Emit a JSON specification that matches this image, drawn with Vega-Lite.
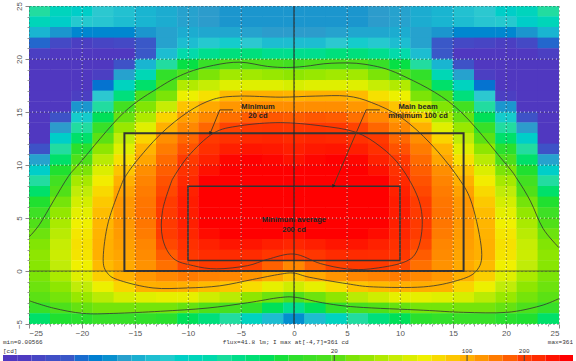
{"$schema":"https://vega.github.io/schema/vega-lite/v6.json","padding":{"left":3,"top":1,"right":0,"bottom":0},"background":"white","spacing":0,"columns":1,"align":"none","config":{"view":{"stroke":null}},
"datasets":{"cells":[
{"x":-24,"y":24.5,"v":5},{"x":-24,"y":23.5,"v":3.8},{"x":-24,"y":22.5,"v":2},{"x":-24,"y":21.5,"v":0.9},{"x":-24,"y":20.5,"v":0.5},{"x":-24,"y":19.5,"v":0.4},{"x":-24,"y":18.5,"v":0.4},{"x":-24,"y":17.5,"v":0.4},{"x":-24,"y":16.5,"v":0.4},{"x":-24,"y":15.5,"v":0.4},{"x":-24,"y":14.5,"v":0.4},{"x":-24,"y":13.5,"v":0.4},{"x":-24,"y":12.5,"v":0.4},{"x":-24,"y":11.5,"v":0.7},{"x":-24,"y":10.5,"v":1.6},{"x":-24,"y":9.5,"v":3},{"x":-24,"y":8.5,"v":5},{"x":-24,"y":7.5,"v":8},{"x":-24,"y":6.5,"v":11},{"x":-24,"y":5.5,"v":15},{"x":-24,"y":4.5,"v":20},{"x":-24,"y":3.5,"v":23},{"x":-24,"y":2.5,"v":26},{"x":-24,"y":1.5,"v":28},{"x":-24,"y":0.5,"v":27},{"x":-24,"y":-0.5,"v":25},{"x":-24,"y":-1.5,"v":23},{"x":-24,"y":-2.5,"v":21},{"x":-24,"y":-3.5,"v":14},{"x":-24,"y":-4.5,"v":8},
{"x":-22,"y":24.5,"v":3.6},{"x":-22,"y":23.5,"v":3},{"x":-22,"y":22.5,"v":1.4},{"x":-22,"y":21.5,"v":0.6},{"x":-22,"y":20.5,"v":0.4},{"x":-22,"y":19.5,"v":0.4},{"x":-22,"y":18.5,"v":0.4},{"x":-22,"y":17.5,"v":0.4},{"x":-22,"y":16.5,"v":0.4},{"x":-22,"y":15.5,"v":0.4},{"x":-22,"y":14.5,"v":0.7},{"x":-22,"y":13.5,"v":1.5},{"x":-22,"y":12.5,"v":3},{"x":-22,"y":11.5,"v":5},{"x":-22,"y":10.5,"v":8},{"x":-22,"y":9.5,"v":11},{"x":-22,"y":8.5,"v":16},{"x":-22,"y":7.5,"v":20},{"x":-22,"y":6.5,"v":24},{"x":-22,"y":5.5,"v":29},{"x":-22,"y":4.5,"v":34},{"x":-22,"y":3.5,"v":38},{"x":-22,"y":2.5,"v":42},{"x":-22,"y":1.5,"v":44},{"x":-22,"y":0.5,"v":40},{"x":-22,"y":-0.5,"v":34},{"x":-22,"y":-1.5,"v":28},{"x":-22,"y":-2.5,"v":24},{"x":-22,"y":-3.5,"v":19},{"x":-22,"y":-4.5,"v":11},
{"x":-20,"y":24.5,"v":3},{"x":-20,"y":23.5,"v":2.6},{"x":-20,"y":22.5,"v":1.2},{"x":-20,"y":21.5,"v":0.5},{"x":-20,"y":20.5,"v":0.4},{"x":-20,"y":19.5,"v":0.4},{"x":-20,"y":18.5,"v":0.4},{"x":-20,"y":17.5,"v":0.4},{"x":-20,"y":16.5,"v":0.5},{"x":-20,"y":15.5,"v":1.4},{"x":-20,"y":14.5,"v":2.8},{"x":-20,"y":13.5,"v":5},{"x":-20,"y":12.5,"v":8},{"x":-20,"y":11.5,"v":12},{"x":-20,"y":10.5,"v":19},{"x":-20,"y":9.5,"v":25},{"x":-20,"y":8.5,"v":33},{"x":-20,"y":7.5,"v":40},{"x":-20,"y":6.5,"v":47},{"x":-20,"y":5.5,"v":54},{"x":-20,"y":4.5,"v":60},{"x":-20,"y":3.5,"v":65},{"x":-20,"y":2.5,"v":68},{"x":-20,"y":1.5,"v":66},{"x":-20,"y":0.5,"v":60},{"x":-20,"y":-0.5,"v":52},{"x":-20,"y":-1.5,"v":40},{"x":-20,"y":-2.5,"v":30},{"x":-20,"y":-3.5,"v":22},{"x":-20,"y":-4.5,"v":12},
{"x":-18,"y":24.5,"v":2.5},{"x":-18,"y":23.5,"v":2.4},{"x":-18,"y":22.5,"v":1.2},{"x":-18,"y":21.5,"v":0.55},{"x":-18,"y":20.5,"v":0.4},{"x":-18,"y":19.5,"v":0.4},{"x":-18,"y":18.5,"v":0.5},{"x":-18,"y":17.5,"v":1},{"x":-18,"y":16.5,"v":2.5},{"x":-18,"y":15.5,"v":5},{"x":-18,"y":14.5,"v":9},{"x":-18,"y":13.5,"v":14},{"x":-18,"y":12.5,"v":21},{"x":-18,"y":11.5,"v":28},{"x":-18,"y":10.5,"v":38},{"x":-18,"y":9.5,"v":50},{"x":-18,"y":8.5,"v":62},{"x":-18,"y":7.5,"v":72},{"x":-18,"y":6.5,"v":82},{"x":-18,"y":5.5,"v":90},{"x":-18,"y":4.5,"v":95},{"x":-18,"y":3.5,"v":98},{"x":-18,"y":2.5,"v":100},{"x":-18,"y":1.5,"v":100},{"x":-18,"y":0.5,"v":92},{"x":-18,"y":-0.5,"v":78},{"x":-18,"y":-1.5,"v":58},{"x":-18,"y":-2.5,"v":38},{"x":-18,"y":-3.5,"v":24},{"x":-18,"y":-4.5,"v":14},
{"x":-16,"y":24.5,"v":2.3},{"x":-16,"y":23.5,"v":2.2},{"x":-16,"y":22.5,"v":1.2},{"x":-16,"y":21.5,"v":0.6},{"x":-16,"y":20.5,"v":0.45},{"x":-16,"y":19.5,"v":0.7},{"x":-16,"y":18.5,"v":1.6},{"x":-16,"y":17.5,"v":3.5},{"x":-16,"y":16.5,"v":7},{"x":-16,"y":15.5,"v":16},{"x":-16,"y":14.5,"v":22},{"x":-16,"y":13.5,"v":30},{"x":-16,"y":12.5,"v":40},{"x":-16,"y":11.5,"v":52},{"x":-16,"y":10.5,"v":68},{"x":-16,"y":9.5,"v":85},{"x":-16,"y":8.5,"v":100},{"x":-16,"y":7.5,"v":110},{"x":-16,"y":6.5,"v":118},{"x":-16,"y":5.5,"v":120},{"x":-16,"y":4.5,"v":118},{"x":-16,"y":3.5,"v":115},{"x":-16,"y":2.5,"v":112},{"x":-16,"y":1.5,"v":108},{"x":-16,"y":0.5,"v":105},{"x":-16,"y":-0.5,"v":100},{"x":-16,"y":-1.5,"v":75},{"x":-16,"y":-2.5,"v":48},{"x":-16,"y":-3.5,"v":24},{"x":-16,"y":-4.5,"v":14},
{"x":-14,"y":24.5,"v":2},{"x":-14,"y":23.5,"v":2},{"x":-14,"y":22.5,"v":1.4},{"x":-14,"y":21.5,"v":0.8},{"x":-14,"y":20.5,"v":0.8},{"x":-14,"y":19.5,"v":2},{"x":-14,"y":18.5,"v":4},{"x":-14,"y":17.5,"v":8},{"x":-14,"y":16.5,"v":19},{"x":-14,"y":15.5,"v":26},{"x":-14,"y":14.5,"v":35},{"x":-14,"y":13.5,"v":52},{"x":-14,"y":12.5,"v":75},{"x":-14,"y":11.5,"v":97},{"x":-14,"y":10.5,"v":108},{"x":-14,"y":9.5,"v":125},{"x":-14,"y":8.5,"v":133},{"x":-14,"y":7.5,"v":140},{"x":-14,"y":6.5,"v":145},{"x":-14,"y":5.5,"v":148},{"x":-14,"y":4.5,"v":145},{"x":-14,"y":3.5,"v":140},{"x":-14,"y":2.5,"v":132},{"x":-14,"y":1.5,"v":128},{"x":-14,"y":0.5,"v":122},{"x":-14,"y":-0.5,"v":118},{"x":-14,"y":-1.5,"v":100},{"x":-14,"y":-2.5,"v":52},{"x":-14,"y":-3.5,"v":24},{"x":-14,"y":-4.5,"v":13},
{"x":-12,"y":24.5,"v":1.8},{"x":-12,"y":23.5,"v":1.8},{"x":-12,"y":22.5,"v":1.6},{"x":-12,"y":21.5,"v":1.6},{"x":-12,"y":20.5,"v":2.2},{"x":-12,"y":19.5,"v":5},{"x":-12,"y":18.5,"v":13},{"x":-12,"y":17.5,"v":19},{"x":-12,"y":16.5,"v":25},{"x":-12,"y":15.5,"v":42},{"x":-12,"y":14.5,"v":75},{"x":-12,"y":13.5,"v":100},{"x":-12,"y":12.5,"v":125},{"x":-12,"y":11.5,"v":140},{"x":-12,"y":10.5,"v":155},{"x":-12,"y":9.5,"v":168},{"x":-12,"y":8.5,"v":180},{"x":-12,"y":7.5,"v":190},{"x":-12,"y":6.5,"v":200},{"x":-12,"y":5.5,"v":205},{"x":-12,"y":4.5,"v":205},{"x":-12,"y":3.5,"v":200},{"x":-12,"y":2.5,"v":190},{"x":-12,"y":1.5,"v":170},{"x":-12,"y":0.5,"v":150},{"x":-12,"y":-0.5,"v":130},{"x":-12,"y":-1.5,"v":102},{"x":-12,"y":-2.5,"v":55},{"x":-12,"y":-3.5,"v":24},{"x":-12,"y":-4.5,"v":12},
{"x":-10,"y":24.5,"v":1.6},{"x":-10,"y":23.5,"v":1.6},{"x":-10,"y":22.5,"v":1.8},{"x":-10,"y":21.5,"v":2.2},{"x":-10,"y":20.5,"v":4.5},{"x":-10,"y":19.5,"v":10},{"x":-10,"y":18.5,"v":20},{"x":-10,"y":17.5,"v":36},{"x":-10,"y":16.5,"v":58},{"x":-10,"y":15.5,"v":85},{"x":-10,"y":14.5,"v":112},{"x":-10,"y":13.5,"v":130},{"x":-10,"y":12.5,"v":158},{"x":-10,"y":11.5,"v":180},{"x":-10,"y":10.5,"v":205},{"x":-10,"y":9.5,"v":225},{"x":-10,"y":8.5,"v":245},{"x":-10,"y":7.5,"v":260},{"x":-10,"y":6.5,"v":270},{"x":-10,"y":5.5,"v":270},{"x":-10,"y":4.5,"v":265},{"x":-10,"y":3.5,"v":250},{"x":-10,"y":2.5,"v":230},{"x":-10,"y":1.5,"v":210},{"x":-10,"y":0.5,"v":190},{"x":-10,"y":-0.5,"v":140},{"x":-10,"y":-1.5,"v":100},{"x":-10,"y":-2.5,"v":55},{"x":-10,"y":-3.5,"v":22},{"x":-10,"y":-4.5,"v":9},
{"x":-8,"y":24.5,"v":1.5},{"x":-8,"y":23.5,"v":1.5},{"x":-8,"y":22.5,"v":1.7},{"x":-8,"y":21.5,"v":2.6},{"x":-8,"y":20.5,"v":6},{"x":-8,"y":19.5,"v":14},{"x":-8,"y":18.5,"v":25},{"x":-8,"y":17.5,"v":42},{"x":-8,"y":16.5,"v":68},{"x":-8,"y":15.5,"v":105},{"x":-8,"y":14.5,"v":130},{"x":-8,"y":13.5,"v":160},{"x":-8,"y":12.5,"v":205},{"x":-8,"y":11.5,"v":230},{"x":-8,"y":10.5,"v":260},{"x":-8,"y":9.5,"v":285},{"x":-8,"y":8.5,"v":305},{"x":-8,"y":7.5,"v":315},{"x":-8,"y":6.5,"v":320},{"x":-8,"y":5.5,"v":315},{"x":-8,"y":4.5,"v":305},{"x":-8,"y":3.5,"v":290},{"x":-8,"y":2.5,"v":260},{"x":-8,"y":1.5,"v":235},{"x":-8,"y":0.5,"v":205},{"x":-8,"y":-0.5,"v":135},{"x":-8,"y":-1.5,"v":92},{"x":-8,"y":-2.5,"v":45},{"x":-8,"y":-3.5,"v":20},{"x":-8,"y":-4.5,"v":7},
{"x":-6,"y":24.5,"v":1.4},{"x":-6,"y":23.5,"v":1.4},{"x":-6,"y":22.5,"v":1.7},{"x":-6,"y":21.5,"v":2.8},{"x":-6,"y":20.5,"v":7},{"x":-6,"y":19.5,"v":19},{"x":-6,"y":18.5,"v":32},{"x":-6,"y":17.5,"v":52},{"x":-6,"y":16.5,"v":92},{"x":-6,"y":15.5,"v":118},{"x":-6,"y":14.5,"v":150},{"x":-6,"y":13.5,"v":195},{"x":-6,"y":12.5,"v":225},{"x":-6,"y":11.5,"v":265},{"x":-6,"y":10.5,"v":295},{"x":-6,"y":9.5,"v":320},{"x":-6,"y":8.5,"v":340},{"x":-6,"y":7.5,"v":350},{"x":-6,"y":6.5,"v":350},{"x":-6,"y":5.5,"v":345},{"x":-6,"y":4.5,"v":330},{"x":-6,"y":3.5,"v":310},{"x":-6,"y":2.5,"v":280},{"x":-6,"y":1.5,"v":240},{"x":-6,"y":0.5,"v":205},{"x":-6,"y":-0.5,"v":130},{"x":-6,"y":-1.5,"v":85},{"x":-6,"y":-2.5,"v":38},{"x":-6,"y":-3.5,"v":17},{"x":-6,"y":-4.5,"v":5},
{"x":-4,"y":24.5,"v":1.4},{"x":-4,"y":23.5,"v":1.4},{"x":-4,"y":22.5,"v":1.6},{"x":-4,"y":21.5,"v":2.5},{"x":-4,"y":20.5,"v":7},{"x":-4,"y":19.5,"v":19},{"x":-4,"y":18.5,"v":32},{"x":-4,"y":17.5,"v":52},{"x":-4,"y":16.5,"v":100},{"x":-4,"y":15.5,"v":125},{"x":-4,"y":14.5,"v":170},{"x":-4,"y":13.5,"v":210},{"x":-4,"y":12.5,"v":245},{"x":-4,"y":11.5,"v":280},{"x":-4,"y":10.5,"v":305},{"x":-4,"y":9.5,"v":325},{"x":-4,"y":8.5,"v":345},{"x":-4,"y":7.5,"v":355},{"x":-4,"y":6.5,"v":361},{"x":-4,"y":5.5,"v":350},{"x":-4,"y":4.5,"v":335},{"x":-4,"y":3.5,"v":315},{"x":-4,"y":2.5,"v":280},{"x":-4,"y":1.5,"v":240},{"x":-4,"y":0.5,"v":195},{"x":-4,"y":-0.5,"v":120},{"x":-4,"y":-1.5,"v":70},{"x":-4,"y":-2.5,"v":28},{"x":-4,"y":-3.5,"v":13},{"x":-4,"y":-4.5,"v":3.5},
{"x":-2,"y":24.5,"v":1.4},{"x":-2,"y":23.5,"v":1.4},{"x":-2,"y":22.5,"v":1.5},{"x":-2,"y":21.5,"v":2.2},{"x":-2,"y":20.5,"v":6},{"x":-2,"y":19.5,"v":18},{"x":-2,"y":18.5,"v":30},{"x":-2,"y":17.5,"v":52},{"x":-2,"y":16.5,"v":100},{"x":-2,"y":15.5,"v":125},{"x":-2,"y":14.5,"v":175},{"x":-2,"y":13.5,"v":215},{"x":-2,"y":12.5,"v":250},{"x":-2,"y":11.5,"v":275},{"x":-2,"y":10.5,"v":295},{"x":-2,"y":9.5,"v":315},{"x":-2,"y":8.5,"v":330},{"x":-2,"y":7.5,"v":340},{"x":-2,"y":6.5,"v":340},{"x":-2,"y":5.5,"v":335},{"x":-2,"y":4.5,"v":320},{"x":-2,"y":3.5,"v":300},{"x":-2,"y":2.5,"v":265},{"x":-2,"y":1.5,"v":215},{"x":-2,"y":0.5,"v":165},{"x":-2,"y":-0.5,"v":105},{"x":-2,"y":-1.5,"v":55},{"x":-2,"y":-2.5,"v":23},{"x":-2,"y":-3.5,"v":9},{"x":-2,"y":-4.5,"v":2.2},
{"x":0,"y":24.5,"v":1.4},{"x":0,"y":23.5,"v":1.4},{"x":0,"y":22.5,"v":1.5},{"x":0,"y":21.5,"v":2.2},{"x":0,"y":20.5,"v":6},{"x":0,"y":19.5,"v":16},{"x":0,"y":18.5,"v":28},{"x":0,"y":17.5,"v":48},{"x":0,"y":16.5,"v":97},{"x":0,"y":15.5,"v":125},{"x":0,"y":14.5,"v":170},{"x":0,"y":13.5,"v":210},{"x":0,"y":12.5,"v":240},{"x":0,"y":11.5,"v":265},{"x":0,"y":10.5,"v":285},{"x":0,"y":9.5,"v":300},{"x":0,"y":8.5,"v":315},{"x":0,"y":7.5,"v":320},{"x":0,"y":6.5,"v":320},{"x":0,"y":5.5,"v":315},{"x":0,"y":4.5,"v":310},{"x":0,"y":3.5,"v":290},{"x":0,"y":2.5,"v":250},{"x":0,"y":1.5,"v":200},{"x":0,"y":0.5,"v":130},{"x":0,"y":-0.5,"v":88},{"x":0,"y":-1.5,"v":45},{"x":0,"y":-2.5,"v":19},{"x":0,"y":-3.5,"v":6},{"x":0,"y":-4.5,"v":1.3},
{"x":2,"y":24.5,"v":1.4},{"x":2,"y":23.5,"v":1.4},{"x":2,"y":22.5,"v":1.5},{"x":2,"y":21.5,"v":2.2},{"x":2,"y":20.5,"v":6},{"x":2,"y":19.5,"v":18},{"x":2,"y":18.5,"v":30},{"x":2,"y":17.5,"v":52},{"x":2,"y":16.5,"v":100},{"x":2,"y":15.5,"v":125},{"x":2,"y":14.5,"v":175},{"x":2,"y":13.5,"v":215},{"x":2,"y":12.5,"v":250},{"x":2,"y":11.5,"v":275},{"x":2,"y":10.5,"v":295},{"x":2,"y":9.5,"v":315},{"x":2,"y":8.5,"v":330},{"x":2,"y":7.5,"v":340},{"x":2,"y":6.5,"v":340},{"x":2,"y":5.5,"v":335},{"x":2,"y":4.5,"v":320},{"x":2,"y":3.5,"v":300},{"x":2,"y":2.5,"v":265},{"x":2,"y":1.5,"v":215},{"x":2,"y":0.5,"v":165},{"x":2,"y":-0.5,"v":105},{"x":2,"y":-1.5,"v":55},{"x":2,"y":-2.5,"v":23},{"x":2,"y":-3.5,"v":9},{"x":2,"y":-4.5,"v":2.2},
{"x":4,"y":24.5,"v":1.4},{"x":4,"y":23.5,"v":1.4},{"x":4,"y":22.5,"v":1.6},{"x":4,"y":21.5,"v":2.5},{"x":4,"y":20.5,"v":7},{"x":4,"y":19.5,"v":19},{"x":4,"y":18.5,"v":32},{"x":4,"y":17.5,"v":52},{"x":4,"y":16.5,"v":100},{"x":4,"y":15.5,"v":125},{"x":4,"y":14.5,"v":170},{"x":4,"y":13.5,"v":210},{"x":4,"y":12.5,"v":245},{"x":4,"y":11.5,"v":280},{"x":4,"y":10.5,"v":305},{"x":4,"y":9.5,"v":325},{"x":4,"y":8.5,"v":345},{"x":4,"y":7.5,"v":355},{"x":4,"y":6.5,"v":355},{"x":4,"y":5.5,"v":350},{"x":4,"y":4.5,"v":335},{"x":4,"y":3.5,"v":315},{"x":4,"y":2.5,"v":280},{"x":4,"y":1.5,"v":240},{"x":4,"y":0.5,"v":195},{"x":4,"y":-0.5,"v":120},{"x":4,"y":-1.5,"v":70},{"x":4,"y":-2.5,"v":28},{"x":4,"y":-3.5,"v":13},{"x":4,"y":-4.5,"v":3.5},
{"x":6,"y":24.5,"v":1.4},{"x":6,"y":23.5,"v":1.4},{"x":6,"y":22.5,"v":1.7},{"x":6,"y":21.5,"v":2.8},{"x":6,"y":20.5,"v":7},{"x":6,"y":19.5,"v":19},{"x":6,"y":18.5,"v":32},{"x":6,"y":17.5,"v":52},{"x":6,"y":16.5,"v":92},{"x":6,"y":15.5,"v":118},{"x":6,"y":14.5,"v":150},{"x":6,"y":13.5,"v":195},{"x":6,"y":12.5,"v":225},{"x":6,"y":11.5,"v":265},{"x":6,"y":10.5,"v":295},{"x":6,"y":9.5,"v":320},{"x":6,"y":8.5,"v":340},{"x":6,"y":7.5,"v":350},{"x":6,"y":6.5,"v":350},{"x":6,"y":5.5,"v":345},{"x":6,"y":4.5,"v":330},{"x":6,"y":3.5,"v":310},{"x":6,"y":2.5,"v":280},{"x":6,"y":1.5,"v":240},{"x":6,"y":0.5,"v":205},{"x":6,"y":-0.5,"v":130},{"x":6,"y":-1.5,"v":85},{"x":6,"y":-2.5,"v":38},{"x":6,"y":-3.5,"v":17},{"x":6,"y":-4.5,"v":5},
{"x":8,"y":24.5,"v":1.5},{"x":8,"y":23.5,"v":1.5},{"x":8,"y":22.5,"v":1.7},{"x":8,"y":21.5,"v":2.6},{"x":8,"y":20.5,"v":6},{"x":8,"y":19.5,"v":14},{"x":8,"y":18.5,"v":25},{"x":8,"y":17.5,"v":42},{"x":8,"y":16.5,"v":68},{"x":8,"y":15.5,"v":105},{"x":8,"y":14.5,"v":130},{"x":8,"y":13.5,"v":160},{"x":8,"y":12.5,"v":205},{"x":8,"y":11.5,"v":230},{"x":8,"y":10.5,"v":260},{"x":8,"y":9.5,"v":285},{"x":8,"y":8.5,"v":305},{"x":8,"y":7.5,"v":315},{"x":8,"y":6.5,"v":320},{"x":8,"y":5.5,"v":315},{"x":8,"y":4.5,"v":305},{"x":8,"y":3.5,"v":290},{"x":8,"y":2.5,"v":260},{"x":8,"y":1.5,"v":235},{"x":8,"y":0.5,"v":205},{"x":8,"y":-0.5,"v":135},{"x":8,"y":-1.5,"v":92},{"x":8,"y":-2.5,"v":45},{"x":8,"y":-3.5,"v":20},{"x":8,"y":-4.5,"v":7},
{"x":10,"y":24.5,"v":1.6},{"x":10,"y":23.5,"v":1.6},{"x":10,"y":22.5,"v":1.8},{"x":10,"y":21.5,"v":2.2},{"x":10,"y":20.5,"v":4.5},{"x":10,"y":19.5,"v":10},{"x":10,"y":18.5,"v":20},{"x":10,"y":17.5,"v":36},{"x":10,"y":16.5,"v":58},{"x":10,"y":15.5,"v":85},{"x":10,"y":14.5,"v":112},{"x":10,"y":13.5,"v":130},{"x":10,"y":12.5,"v":158},{"x":10,"y":11.5,"v":180},{"x":10,"y":10.5,"v":205},{"x":10,"y":9.5,"v":225},{"x":10,"y":8.5,"v":245},{"x":10,"y":7.5,"v":260},{"x":10,"y":6.5,"v":270},{"x":10,"y":5.5,"v":270},{"x":10,"y":4.5,"v":265},{"x":10,"y":3.5,"v":250},{"x":10,"y":2.5,"v":230},{"x":10,"y":1.5,"v":210},{"x":10,"y":0.5,"v":190},{"x":10,"y":-0.5,"v":140},{"x":10,"y":-1.5,"v":100},{"x":10,"y":-2.5,"v":55},{"x":10,"y":-3.5,"v":22},{"x":10,"y":-4.5,"v":9},
{"x":12,"y":24.5,"v":1.8},{"x":12,"y":23.5,"v":1.8},{"x":12,"y":22.5,"v":1.6},{"x":12,"y":21.5,"v":1.6},{"x":12,"y":20.5,"v":2.2},{"x":12,"y":19.5,"v":5},{"x":12,"y":18.5,"v":13},{"x":12,"y":17.5,"v":19},{"x":12,"y":16.5,"v":25},{"x":12,"y":15.5,"v":42},{"x":12,"y":14.5,"v":75},{"x":12,"y":13.5,"v":100},{"x":12,"y":12.5,"v":125},{"x":12,"y":11.5,"v":140},{"x":12,"y":10.5,"v":155},{"x":12,"y":9.5,"v":168},{"x":12,"y":8.5,"v":180},{"x":12,"y":7.5,"v":190},{"x":12,"y":6.5,"v":200},{"x":12,"y":5.5,"v":205},{"x":12,"y":4.5,"v":205},{"x":12,"y":3.5,"v":200},{"x":12,"y":2.5,"v":190},{"x":12,"y":1.5,"v":170},{"x":12,"y":0.5,"v":150},{"x":12,"y":-0.5,"v":130},{"x":12,"y":-1.5,"v":102},{"x":12,"y":-2.5,"v":55},{"x":12,"y":-3.5,"v":24},{"x":12,"y":-4.5,"v":12},
{"x":14,"y":24.5,"v":2},{"x":14,"y":23.5,"v":2},{"x":14,"y":22.5,"v":1.4},{"x":14,"y":21.5,"v":0.8},{"x":14,"y":20.5,"v":0.8},{"x":14,"y":19.5,"v":2},{"x":14,"y":18.5,"v":4},{"x":14,"y":17.5,"v":8},{"x":14,"y":16.5,"v":19},{"x":14,"y":15.5,"v":26},{"x":14,"y":14.5,"v":35},{"x":14,"y":13.5,"v":52},{"x":14,"y":12.5,"v":75},{"x":14,"y":11.5,"v":97},{"x":14,"y":10.5,"v":108},{"x":14,"y":9.5,"v":125},{"x":14,"y":8.5,"v":133},{"x":14,"y":7.5,"v":140},{"x":14,"y":6.5,"v":145},{"x":14,"y":5.5,"v":148},{"x":14,"y":4.5,"v":145},{"x":14,"y":3.5,"v":140},{"x":14,"y":2.5,"v":132},{"x":14,"y":1.5,"v":128},{"x":14,"y":0.5,"v":122},{"x":14,"y":-0.5,"v":118},{"x":14,"y":-1.5,"v":100},{"x":14,"y":-2.5,"v":52},{"x":14,"y":-3.5,"v":24},{"x":14,"y":-4.5,"v":13},
{"x":16,"y":24.5,"v":2.3},{"x":16,"y":23.5,"v":2.2},{"x":16,"y":22.5,"v":1.2},{"x":16,"y":21.5,"v":0.6},{"x":16,"y":20.5,"v":0.45},{"x":16,"y":19.5,"v":0.7},{"x":16,"y":18.5,"v":1.6},{"x":16,"y":17.5,"v":3.5},{"x":16,"y":16.5,"v":7},{"x":16,"y":15.5,"v":16},{"x":16,"y":14.5,"v":22},{"x":16,"y":13.5,"v":30},{"x":16,"y":12.5,"v":40},{"x":16,"y":11.5,"v":52},{"x":16,"y":10.5,"v":68},{"x":16,"y":9.5,"v":85},{"x":16,"y":8.5,"v":100},{"x":16,"y":7.5,"v":110},{"x":16,"y":6.5,"v":118},{"x":16,"y":5.5,"v":120},{"x":16,"y":4.5,"v":118},{"x":16,"y":3.5,"v":115},{"x":16,"y":2.5,"v":112},{"x":16,"y":1.5,"v":108},{"x":16,"y":0.5,"v":105},{"x":16,"y":-0.5,"v":100},{"x":16,"y":-1.5,"v":75},{"x":16,"y":-2.5,"v":48},{"x":16,"y":-3.5,"v":24},{"x":16,"y":-4.5,"v":14},
{"x":18,"y":24.5,"v":2.5},{"x":18,"y":23.5,"v":2.4},{"x":18,"y":22.5,"v":1.2},{"x":18,"y":21.5,"v":0.55},{"x":18,"y":20.5,"v":0.4},{"x":18,"y":19.5,"v":0.4},{"x":18,"y":18.5,"v":0.5},{"x":18,"y":17.5,"v":1},{"x":18,"y":16.5,"v":2.5},{"x":18,"y":15.5,"v":5},{"x":18,"y":14.5,"v":9},{"x":18,"y":13.5,"v":14},{"x":18,"y":12.5,"v":21},{"x":18,"y":11.5,"v":28},{"x":18,"y":10.5,"v":38},{"x":18,"y":9.5,"v":50},{"x":18,"y":8.5,"v":62},{"x":18,"y":7.5,"v":72},{"x":18,"y":6.5,"v":82},{"x":18,"y":5.5,"v":90},{"x":18,"y":4.5,"v":95},{"x":18,"y":3.5,"v":98},{"x":18,"y":2.5,"v":100},{"x":18,"y":1.5,"v":100},{"x":18,"y":0.5,"v":92},{"x":18,"y":-0.5,"v":78},{"x":18,"y":-1.5,"v":58},{"x":18,"y":-2.5,"v":38},{"x":18,"y":-3.5,"v":24},{"x":18,"y":-4.5,"v":14},
{"x":20,"y":24.5,"v":3},{"x":20,"y":23.5,"v":2.6},{"x":20,"y":22.5,"v":1.2},{"x":20,"y":21.5,"v":0.5},{"x":20,"y":20.5,"v":0.4},{"x":20,"y":19.5,"v":0.4},{"x":20,"y":18.5,"v":0.4},{"x":20,"y":17.5,"v":0.4},{"x":20,"y":16.5,"v":0.5},{"x":20,"y":15.5,"v":1.4},{"x":20,"y":14.5,"v":2.8},{"x":20,"y":13.5,"v":5},{"x":20,"y":12.5,"v":8},{"x":20,"y":11.5,"v":12},{"x":20,"y":10.5,"v":19},{"x":20,"y":9.5,"v":25},{"x":20,"y":8.5,"v":33},{"x":20,"y":7.5,"v":40},{"x":20,"y":6.5,"v":47},{"x":20,"y":5.5,"v":54},{"x":20,"y":4.5,"v":60},{"x":20,"y":3.5,"v":65},{"x":20,"y":2.5,"v":68},{"x":20,"y":1.5,"v":66},{"x":20,"y":0.5,"v":60},{"x":20,"y":-0.5,"v":52},{"x":20,"y":-1.5,"v":40},{"x":20,"y":-2.5,"v":30},{"x":20,"y":-3.5,"v":22},{"x":20,"y":-4.5,"v":12},
{"x":22,"y":24.5,"v":3.6},{"x":22,"y":23.5,"v":3},{"x":22,"y":22.5,"v":1.4},{"x":22,"y":21.5,"v":0.6},{"x":22,"y":20.5,"v":0.4},{"x":22,"y":19.5,"v":0.4},{"x":22,"y":18.5,"v":0.4},{"x":22,"y":17.5,"v":0.4},{"x":22,"y":16.5,"v":0.4},{"x":22,"y":15.5,"v":0.4},{"x":22,"y":14.5,"v":0.7},{"x":22,"y":13.5,"v":1.5},{"x":22,"y":12.5,"v":3},{"x":22,"y":11.5,"v":5},{"x":22,"y":10.5,"v":8},{"x":22,"y":9.5,"v":11},{"x":22,"y":8.5,"v":16},{"x":22,"y":7.5,"v":20},{"x":22,"y":6.5,"v":24},{"x":22,"y":5.5,"v":29},{"x":22,"y":4.5,"v":34},{"x":22,"y":3.5,"v":38},{"x":22,"y":2.5,"v":42},{"x":22,"y":1.5,"v":44},{"x":22,"y":0.5,"v":40},{"x":22,"y":-0.5,"v":34},{"x":22,"y":-1.5,"v":28},{"x":22,"y":-2.5,"v":24},{"x":22,"y":-3.5,"v":19},{"x":22,"y":-4.5,"v":11},
{"x":24,"y":24.5,"v":5},{"x":24,"y":23.5,"v":3.8},{"x":24,"y":22.5,"v":2},{"x":24,"y":21.5,"v":0.9},{"x":24,"y":20.5,"v":0.5},{"x":24,"y":19.5,"v":0.4},{"x":24,"y":18.5,"v":0.4},{"x":24,"y":17.5,"v":0.4},{"x":24,"y":16.5,"v":0.4},{"x":24,"y":15.5,"v":0.4},{"x":24,"y":14.5,"v":0.4},{"x":24,"y":13.5,"v":0.4},{"x":24,"y":12.5,"v":0.4},{"x":24,"y":11.5,"v":0.7},{"x":24,"y":10.5,"v":1.6},{"x":24,"y":9.5,"v":3},{"x":24,"y":8.5,"v":5},{"x":24,"y":7.5,"v":8},{"x":24,"y":6.5,"v":11},{"x":24,"y":5.5,"v":15},{"x":24,"y":4.5,"v":20},{"x":24,"y":3.5,"v":23},{"x":24,"y":2.5,"v":26},{"x":24,"y":1.5,"v":28},{"x":24,"y":0.5,"v":27},{"x":24,"y":-0.5,"v":25},{"x":24,"y":-1.5,"v":23},{"x":24,"y":-2.5,"v":21},{"x":24,"y":-3.5,"v":14},{"x":24,"y":-4.5,"v":8}
],
"contours":[
{"c":"20a","i":1,"x":-25,"y":3.2},{"c":"20a","i":2,"x":-24,"y":4.4},{"c":"20a","i":3,"x":-22.7,"y":6.6},{"c":"20a","i":4,"x":-21.3,"y":8.9},{"c":"20a","i":5,"x":-20.2,"y":10.2},{"c":"20a","i":6,"x":-16.1,"y":14.9},{"c":"20a","i":7,"x":-12.6,"y":17.4},{"c":"20a","i":8,"x":-10.1,"y":18.7},{"c":"20a","i":9,"x":-7.6,"y":19.4},{"c":"20a","i":10,"x":-5.1,"y":19.7},{"c":"20a","i":11,"x":-2.5,"y":19.3},{"c":"20a","i":12,"x":-0.7,"y":19.2},{"c":"20a","i":13,"x":1,"y":19.3},{"c":"20a","i":14,"x":3.5,"y":19.6},{"c":"20a","i":15,"x":6.7,"y":19.5},{"c":"20a","i":16,"x":10.1,"y":18.5},{"c":"20a","i":17,"x":15.2,"y":15.5},{"c":"20a","i":18,"x":19.9,"y":10.2},{"c":"20a","i":19,"x":21.1,"y":8.6},{"c":"20a","i":20,"x":22.3,"y":6.6},{"c":"20a","i":21,"x":23.5,"y":4},{"c":"20a","i":22,"x":25,"y":2.2},
{"c":"20b","i":1,"x":-25,"y":-2.8},{"c":"20b","i":2,"x":-22.7,"y":-3.5},{"c":"20b","i":3,"x":-19.9,"y":-4},{"c":"20b","i":4,"x":-17,"y":-4},{"c":"20b","i":5,"x":-12.6,"y":-3.8},{"c":"20b","i":6,"x":-8.2,"y":-3.5},{"c":"20b","i":7,"x":-4.4,"y":-3},{"c":"20b","i":8,"x":-1.3,"y":-2.5},{"c":"20b","i":9,"x":0.3,"y":-2.5},{"c":"20b","i":10,"x":2.7,"y":-3},{"c":"20b","i":11,"x":5.9,"y":-3.4},{"c":"20b","i":12,"x":12.2,"y":-3.7},{"c":"20b","i":13,"x":16,"y":-3.9},{"c":"20b","i":14,"x":20.1,"y":-3.9},{"c":"20b","i":15,"x":23.2,"y":-3.3},{"c":"20b","i":16,"x":25,"y":-2.6},
{"c":"100","i":1,"x":-16.1,"y":8.6},{"c":"100","i":2,"x":-15,"y":10.2},{"c":"100","i":3,"x":-12.6,"y":12.9},{"c":"100","i":4,"x":-10,"y":15},{"c":"100","i":5,"x":-7.6,"y":16.2},{"c":"100","i":6,"x":-5.1,"y":16.5},{"c":"100","i":7,"x":-1.3,"y":16.4},{"c":"100","i":8,"x":2,"y":16.5},{"c":"100","i":9,"x":5,"y":16.5},{"c":"100","i":10,"x":7.3,"y":15.9},{"c":"100","i":11,"x":10.1,"y":14.5},{"c":"100","i":12,"x":12.9,"y":12},{"c":"100","i":13,"x":15.5,"y":8.8},{"c":"100","i":14,"x":16.8,"y":6.3},{"c":"100","i":15,"x":17.7,"y":1.9},{"c":"100","i":16,"x":17.2,"y":0},{"c":"100","i":17,"x":15.4,"y":-0.9},{"c":"100","i":18,"x":12.2,"y":-1.5},{"c":"100","i":19,"x":7.5,"y":-1.5},{"c":"100","i":20,"x":5,"y":-1.2},{"c":"100","i":21,"x":1.5,"y":-0.6},{"c":"100","i":22,"x":0,"y":-0.2},{"c":"100","i":23,"x":-1.3,"y":-0.3},{"c":"100","i":24,"x":-3.9,"y":-0.8},{"c":"100","i":25,"x":-7,"y":-1.4},{"c":"100","i":26,"x":-10.1,"y":-1.6},{"c":"100","i":27,"x":-13.3,"y":-1.6},{"c":"100","i":28,"x":-16.4,"y":-0.9},{"c":"100","i":29,"x":-17.6,"y":-0.2},{"c":"100","i":30,"x":-18,"y":1.2},{"c":"100","i":31,"x":-17.5,"y":4.7},{"c":"100","i":32,"x":-16.1,"y":8.6},
{"c":"200","i":1,"x":-11.5,"y":8.6},{"c":"200","i":2,"x":-10,"y":10.8},{"c":"200","i":3,"x":-7.6,"y":13},{"c":"200","i":4,"x":-5.1,"y":13.7},{"c":"200","i":5,"x":-1.3,"y":14},{"c":"200","i":6,"x":2.5,"y":13.7},{"c":"200","i":7,"x":5.8,"y":13.1},{"c":"200","i":8,"x":8.2,"y":11.7},{"c":"200","i":9,"x":10.1,"y":9.8},{"c":"200","i":10,"x":11.7,"y":6.9},{"c":"200","i":11,"x":12.1,"y":4.4},{"c":"200","i":12,"x":11.6,"y":1.9},{"c":"200","i":13,"x":10.3,"y":0.8},{"c":"200","i":14,"x":7.2,"y":0.2},{"c":"200","i":15,"x":5,"y":0.2},{"c":"200","i":16,"x":2.5,"y":0.7},{"c":"200","i":17,"x":0,"y":1.6},{"c":"200","i":18,"x":-2.5,"y":1.1},{"c":"200","i":19,"x":-4.4,"y":0.5},{"c":"200","i":20,"x":-7.3,"y":0.2},{"c":"200","i":21,"x":-9.5,"y":0.5},{"c":"200","i":22,"x":-11.4,"y":1.2},{"c":"200","i":23,"x":-12.4,"y":3.1},{"c":"200","i":24,"x":-12.4,"y":5.7},{"c":"200","i":25,"x":-11.5,"y":8.6}
],
"leaders":[
{"c":"a","i":1,"x":-5.75,"y":15.2},{"c":"a","i":2,"x":-7,"y":15.2},{"c":"a","i":3,"x":-7.9,"y":13},
{"c":"b","i":1,"x":8.1,"y":15.2},{"c":"b","i":2,"x":6.8,"y":15.2},{"c":"b","i":3,"x":3.7,"y":8}
],
"bar":[
{"a":0.361,"b":0.429,"v":0.39},{"a":0.429,"b":0.51,"v":0.47},{"a":0.51,"b":0.607,"v":0.56},{"a":0.607,"b":0.721,"v":0.66},{"a":0.721,"b":0.858,"v":0.79},{"a":0.858,"b":1.02,"v":0.94},{"a":1.02,"b":1.21,"v":1.11},{"a":1.21,"b":1.44,"v":1.32},{"a":1.44,"b":1.71,"v":1.57},{"a":1.71,"b":2.03,"v":1.86},{"a":2.03,"b":2.42,"v":2.22},{"a":2.42,"b":2.87,"v":2.64},{"a":2.87,"b":3.42,"v":3.13},{"a":3.42,"b":4.06,"v":3.73},{"a":4.06,"b":4.83,"v":4.43},{"a":4.83,"b":5.74,"v":5.27},{"a":5.74,"b":6.83,"v":6.26},{"a":6.83,"b":8.12,"v":7.45},{"a":8.12,"b":9.66,"v":8.86},{"a":9.66,"b":11.5,"v":10.5},{"a":11.5,"b":13.7,"v":12.5},{"a":13.7,"b":16.2,"v":14.9},{"a":16.2,"b":19.3,"v":17.7},{"a":19.3,"b":23,"v":21},{"a":23,"b":27.3,"v":25},{"a":27.3,"b":32.5,"v":29.8},{"a":32.5,"b":38.6,"v":35.4},{"a":38.6,"b":45.9,"v":42},{"a":45.9,"b":54.6,"v":50},{"a":54.6,"b":64.9,"v":59.5},{"a":64.9,"b":77.2,"v":70.8},{"a":77.2,"b":91.8,"v":84.2},{"a":91.8,"b":109,"v":100},{"a":109,"b":130,"v":119},{"a":130,"b":154,"v":141},{"a":154,"b":184,"v":168},{"a":184,"b":218,"v":200},{"a":218,"b":259,"v":238},{"a":259,"b":308,"v":282},{"a":308,"b":361,"v":335}
]},
"concat":[
{"width":530,"height":318,"resolve":{"axis":{"x":"independent","y":"independent"}},
"layer":[
{"data":{"name":"cells"},"mark":{"type":"rect","width":21.6,"height":11,"clip":true},
"encoding":{
"x":{"field":"x","type":"quantitative","scale":{"domain":[-25,25],"nice":false,"zero":false},
"axis":{"orient":"bottom","title":null,"values":[-25,-20,-15,-10,-5,0,5,10,15,20,25],"format":"d","labelFlush":true,"labelOverlap":false,"labelFont":"Liberation Sans","labelFontSize":8,"labelColor":"#555","labelPadding":1,"domain":false,"tickColor":"#888","tickSize":4,"grid":true,"gridColor":"#444","gridDash":[1,3],"gridWidth":1,"gridOpacity":0.8,"zindex":1}},
"y":{"field":"y","type":"quantitative","scale":{"domain":[-5,25],"nice":false,"zero":false},
"axis":{"orient":"left","title":null,"values":[-5,0,5,10,15,20,25],"format":"d","labelFlush":true,"labelOverlap":false,"labelAngle":-90,"labelAlign":"center","labelBaseline":"bottom","labelFont":"Liberation Sans","labelFontSize":8,"labelColor":"#555","labelPadding":2,"domain":false,"tickColor":"#888","tickSize":4,"minExtent":26,"maxExtent":26,"grid":true,"gridColor":"#444","gridDash":[1,3],"gridWidth":1,"gridOpacity":0.8,"zindex":1}},
"color":{"field":"v","type":"quantitative","legend":null,"scale":{"type":"log","clamp":true,"domain":[0.45,0.8,1.5,2.5,5,11,20,40,60,100,150,200,300,361],"range":["#5038c0","#3a58c8","#2c9ccc","#2cc8d0","#22dca0","#20e030","#50e018","#c0ec08","#f0f000","#ffb000","#ff7000","#ff3c00","#ff0000","#ff0000"]}}
}},
{"data":{"values":[{"x":-20},{"x":-15},{"x":-10},{"x":-5},{"x":5},{"x":10},{"x":15},{"x":20}]},"mark":{"type":"rule","stroke":"#fff","strokeWidth":1,"strokeDash":[1,3],"strokeDashOffset":2,"opacity":0.75},"encoding":{"x":{"field":"x","type":"quantitative","axis":null}}},
{"data":{"values":[{"y":-5},{"y":5},{"y":10},{"y":15},{"y":20},{"y":25}]},"mark":{"type":"rule","stroke":"#fff","strokeWidth":1,"strokeDash":[1,3],"strokeDashOffset":2,"opacity":0.75},"encoding":{"y":{"field":"y","type":"quantitative","axis":null}}},
{"data":{"values":[{"x0":-16,"x1":16,"y0":0,"y1":13}]},"mark":{"type":"rect","fill":"transparent","stroke":"#333","strokeWidth":2},"encoding":{
"x":{"field":"x0","type":"quantitative","axis":{"orient":"bottom","title":null,"values":[-24,-23,-22,-21,-19,-18,-17,-16,-14,-13,-12,-11,-9,-8,-7,-6,-4,-3,-2,-1,1,2,3,4,6,7,8,9,11,12,13,14,16,17,18,19,21,22,23,24],"labels":false,"domain":false,"grid":false,"tickColor":"#999","tickSize":2,"zindex":1}},"x2":{"field":"x1"},
"y":{"field":"y0","type":"quantitative","axis":{"orient":"left","title":null,"values":[-4,-3,-2,-1,1,2,3,4,6,7,8,9,11,12,13,14,16,17,18,19,21,22,23,24],"labels":false,"domain":false,"grid":false,"tickColor":"#999","tickSize":2,"zindex":1}},"y2":{"field":"y1"}}},
{"data":{"values":[{"x0":-10,"x1":10,"y0":1,"y1":8}]},"mark":{"type":"rect","fill":"transparent","stroke":"#333","strokeWidth":1.5},"encoding":{"x":{"field":"x0","type":"quantitative","axis":null},"x2":{"field":"x1"},"y":{"field":"y0","type":"quantitative","axis":null},"y2":{"field":"y1"}}},
{"data":{"name":"contours"},"mark":{"type":"line","interpolate":"cardinal","stroke":"#333","strokeWidth":1,"opacity":0.8,"clip":true},"encoding":{"x":{"field":"x","type":"quantitative","axis":null},"y":{"field":"y","type":"quantitative","axis":null},"detail":{"field":"c"},"order":{"field":"i"}}},
{"data":{"values":[{"x":0}]},"mark":{"type":"rule","stroke":"#222","strokeWidth":1},"encoding":{"x":{"field":"x","type":"quantitative","axis":null}}},
{"data":{"values":[{"y":0}]},"mark":{"type":"rule","stroke":"#333","strokeWidth":1,"opacity":0.7},"encoding":{"y":{"field":"y","type":"quantitative","axis":null}}},
{"data":{"name":"leaders"},"mark":{"type":"line","stroke":"#5a3a20","strokeWidth":1},"encoding":{"x":{"field":"x","type":"quantitative","axis":null},"y":{"field":"y","type":"quantitative","axis":null},"detail":{"field":"c"},"order":{"field":"i"}}},
{"data":{"values":[{"x":-7.9,"y":13},{"x":3.7,"y":8}]},"mark":{"type":"point","shape":"triangle-up","filled":true,"size":14,"angle":203,"color":"#222","opacity":1},"encoding":{"x":{"field":"x","type":"quantitative","axis":null},"y":{"field":"y","type":"quantitative","axis":null}}},
{"data":{"values":[{"x":-3.4,"y":15.5,"t":"Minimum"},{"x":-3.4,"y":14.6,"t":"20 cd"},{"x":11.7,"y":15.5,"t":"Main beam"},{"x":11.7,"y":14.6,"t":"minimum 100 cd"},{"x":0,"y":4.8,"t":"Minimum average"},{"x":0,"y":3.9,"t":"200 cd"}]},"mark":{"type":"text","font":"Liberation Sans","fontWeight":"bold","fontSize":7.6,"color":"#222","align":"center","baseline":"middle"},"encoding":{"x":{"field":"x","type":"quantitative","axis":null},"y":{"field":"y","type":"quantitative","axis":null},"text":{"field":"t"}}}
]},
{"width":544,"height":24,
"layer":[
{"data":{"name":"bar"},"mark":{"type":"rect","strokeWidth":0},"encoding":{
"x":{"field":"a","type":"quantitative","axis":null,"scale":{"type":"log","domain":[0.361,361],"nice":false,"range":[-26,544]}},"x2":{"field":"b"},
"y":{"datum":0,"type":"quantitative","axis":null,"scale":{"domain":[0,24],"nice":false,"zero":false}},"y2":{"datum":6},
"color":{"field":"v","type":"quantitative","legend":null,"scale":{"type":"log","clamp":true,"domain":[0.45,0.8,1.5,2.5,5,11,20,40,60,100,150,200,300,361],"range":["#5038c0","#3a58c8","#2c9ccc","#2cc8d0","#22dca0","#20e030","#50e018","#c0ec08","#f0f000","#ffb000","#ff7000","#ff3c00","#ff0000","#ff0000"]}}}},
{"data":{"values":[{"v":20},{"v":100},{"v":200}]},"mark":{"type":"rule","stroke":"#444","strokeWidth":1},"encoding":{"x":{"field":"v","type":"quantitative"},"y":{"datum":0,"type":"quantitative"},"y2":{"datum":6}}},
{"data":{"values":[{"v":20,"h":10,"t":"20"},{"v":100,"h":10,"t":"100"},{"v":200,"h":10,"t":"200"},{"v":11.1,"h":19,"t":"flux=41.8 lm; I max at[-4,7]=361 cd"}]},"mark":{"type":"text","font":"Liberation Mono","fontSize":6,"color":"#333","align":"center","baseline":"middle"},"encoding":{"x":{"field":"v","type":"quantitative"},"y":{"field":"h","type":"quantitative"},"text":{"field":"t"}}},
{"data":{"values":[{"v":0.361,"h":19,"t":"min=0.00566"},{"v":0.361,"h":10,"t":"[cd]"}]},"mark":{"type":"text","font":"Liberation Mono","fontSize":6,"color":"#333","align":"left","baseline":"middle"},"encoding":{"x":{"field":"v","type":"quantitative"},"y":{"field":"h","type":"quantitative"},"text":{"field":"t"}}},
{"data":{"values":[{"v":361,"h":19,"t":"max=361"}]},"mark":{"type":"text","font":"Liberation Mono","fontSize":6,"color":"#333","align":"right","baseline":"middle"},"encoding":{"x":{"field":"v","type":"quantitative"},"y":{"field":"h","type":"quantitative"},"text":{"field":"t"}}}
]}
]}
